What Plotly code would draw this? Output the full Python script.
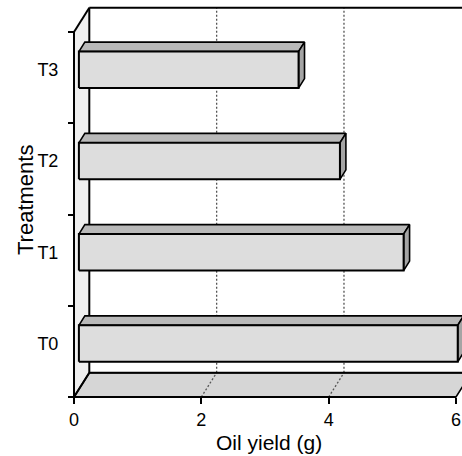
import plotly.graph_objects as go

# Data
treatments = ["T0", "T1", "T2", "T3"]
oil_yield = [5.95, 5.1, 4.1, 3.45]
x_ticks = [0, 2, 4, 6]
x_max = 6

# Figure size and pseudo-3D geometry (pixels)
W, H = 462, 456
X0_PX, X_SCALE = 74, 63.67      # pixel of x=0 and pixels per unit
Y0_PX, Y_SCALE = 397, 91.25     # pixel of category floor and pixels per category
DEPTH_X, DEPTH_Y = 15.3 / X_SCALE, 24.3 / Y_SCALE   # depth offset in data units
BAR_FRONT, BAR_BACK = 0.32, 0.71                     # bar depth fractions
BAR_HALF = 0.2

x_range = [-X0_PX / X_SCALE, (W - X0_PX) / X_SCALE]
y_range = [-(H - Y0_PX) / Y_SCALE, Y0_PX / Y_SCALE]
n_cat = len(treatments)

FONT = "Liberation Sans, Arial, sans-serif"
LINE = dict(color="black", width=1.6)

fig = go.Figure()


def poly(xs, ys, fill, line=LINE):
    fig.add_trace(go.Scatter(
        x=list(xs) + [xs[0]], y=list(ys) + [ys[0]], mode="lines",
        fill="toself", fillcolor=fill, line=line, hoverinfo="skip", showlegend=False))


def seg(xs, ys, line=LINE):
    fig.add_trace(go.Scatter(x=xs, y=ys, mode="lines", line=line,
                             hoverinfo="skip", showlegend=False))


# Left wall
poly([0, DEPTH_X, DEPTH_X, 0], [0, DEPTH_Y, n_cat + DEPTH_Y, n_cat], "#efefef",
     line=dict(color="rgba(0,0,0,0)", width=0))
# Floor
poly([0, x_max, x_max + DEPTH_X, DEPTH_X], [0, 0, DEPTH_Y, DEPTH_Y], "#d6d6d6")

# Dotted gridlines on back wall and floor
dot = dict(color="#555555", width=1.3, dash="2px,2px")
for t in x_ticks[1:-1]:
    seg([t + DEPTH_X, t + DEPTH_X], [DEPTH_Y, n_cat + DEPTH_Y], dot)
    seg([t, t + DEPTH_X], [0, DEPTH_Y], dot)

# Walls outline
wall = dict(color="black", width=2)
seg([DEPTH_X, DEPTH_X], [DEPTH_Y, n_cat + DEPTH_Y], wall)
seg([DEPTH_X, x_max + DEPTH_X + 1], [n_cat + DEPTH_Y, n_cat + DEPTH_Y], wall)
seg([0, DEPTH_X], [n_cat, n_cat + DEPTH_Y], wall)
seg([0, DEPTH_X], [0, DEPTH_Y], wall)
seg([DEPTH_X, x_max + DEPTH_X], [DEPTH_Y, DEPTH_Y], wall)

# Bars
fx, fy = BAR_FRONT * DEPTH_X, BAR_FRONT * DEPTH_Y
bx, by = BAR_BACK * DEPTH_X, BAR_BACK * DEPTH_Y
for i, v in enumerate(oil_yield):
    c = i + 0.5
    lo, hi = c - BAR_HALF, c + BAR_HALF
    # top face
    poly([fx, v + fx, v + bx, bx], [hi + fy, hi + fy, hi + by, hi + by], "#b9b9b9")
    # side face
    poly([v + fx, v + bx, v + bx, v + fx], [lo + fy, lo + by, hi + by, hi + fy], "#a4a4a4")
    # front face
    poly([fx, v + fx, v + fx, fx], [lo + fy, lo + fy, hi + fy, hi + fy], "#dddddd",
         line=dict(color="black", width=2))

# Front axis lines
seg([0, 0], [0, n_cat], wall)
seg([0, x_max], [0, 0], wall)

fig.update_layout(
    width=W, height=H, autosize=False,
    margin=dict(l=0, r=0, t=0, b=0),
    paper_bgcolor="white", plot_bgcolor="white",
    font=dict(family=FONT, size=18, color="black"),
    xaxis=dict(
        range=x_range, anchor="free", position=1 - Y0_PX / H,
        tickvals=x_ticks, ticktext=[str(t) for t in x_ticks],
        ticks="outside", ticklen=6, tickwidth=1.6, tickcolor="black",
        showline=False, showgrid=False, zeroline=False,
        tickfont=dict(size=18, family=FONT),
    ),
    yaxis=dict(
        range=y_range, anchor="free", position=X0_PX / W,
        tickvals=[i + 0.5 + fy for i in range(n_cat)], ticktext=treatments,
        ticks="outside", ticklen=12, tickcolor="rgba(0,0,0,0)",
        minor=dict(tickmode="array", tickvals=list(range(n_cat + 1)),
                   ticks="outside", ticklen=6, tickwidth=1.6, tickcolor="black"),
        showline=False, showgrid=False, zeroline=False,
        tickfont=dict(size=18, family=FONT),
    ),
    annotations=[
        dict(text="Oil yield (g)", xref="paper", yref="paper",
             x=269 / W, y=1 - 442 / H, xanchor="center", yanchor="middle",
             showarrow=False, font=dict(size=21, family=FONT)),
        dict(text="Treatments", xref="paper", yref="paper",
             x=25 / W, y=1 - 200 / H, xanchor="center", yanchor="middle",
             showarrow=False, textangle=-90, font=dict(size=22, family=FONT)),
    ],
)

fig.write_html("out.html")
